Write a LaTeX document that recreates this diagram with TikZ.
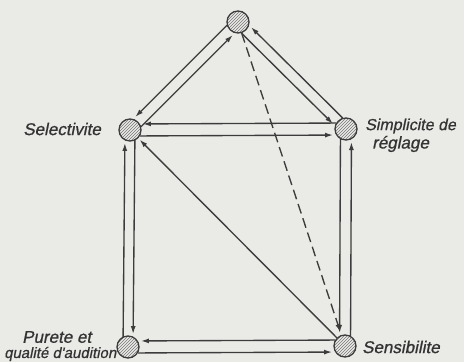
\documentclass[tikz,border=0pt]{standalone}
\usepackage{fontspec}
\setmainfont{Liberation Sans}
\newfontfamily\labfont[FakeBold=0.8,FakeSlant=0.2]{Liberation Sans}
\usetikzlibrary{patterns,arrows.meta,calc}
\definecolor{paper}{RGB}{234,234,231}
\definecolor{ink}{RGB}{60,60,60}
\begin{document}
\begin{tikzpicture}[x=1pt,y=1pt,
  vertex/.style={circle,draw=ink,line width=1.3pt,minimum size=22pt,inner sep=0pt,
    pattern=north east lines,pattern color=ink!70},
  arr/.style={draw=ink,line width=1.35pt,-{Latex[length=8pt,width=5pt]}},
  par/.style={arr,shorten <=10pt,shorten >=13pt},
  lab/.style={font=\fontsize{17}{15}\labfont,text=ink!85!black,inner sep=0pt}]
\fill[paper] (0,0) rectangle (464,-362);
\clip (0,0) rectangle (464,-362);
\useasboundingbox (0,0) rectangle (464,-362);

\node[vertex] (T) at (238,-22) {};
\node[vertex] (S) at (130,-130) {};
\node[vertex] (R) at (346,-129) {};
\node[vertex] (P) at (128,-347) {};
\node[vertex] (E) at (345,-346) {};

% top -- selectivite
\draw[par] ($(T)!5.5pt!-90:(S)$) -- ($(S)!5.5pt!90:(T)$);
\draw[par] ($(S)!5.5pt!-90:(T)$) -- ($(T)!5.5pt!90:(S)$);
% top -- simplicite
\draw[par] ($(T)!5.5pt!-90:(R)$) -- ($(R)!5.5pt!90:(T)$);
\draw[par] ($(R)!5.5pt!-90:(T)$) -- ($(T)!5.5pt!90:(R)$);
% selectivite -- simplicite
\draw[par] ($(R)!6pt!-90:(S)$) -- ($(S)!6pt!90:(R)$);
\draw[par] ($(S)!6pt!-90:(R)$) -- ($(R)!6pt!90:(S)$);
% simplicite -- sensibilite
\draw[par] ($(R)!5.5pt!-90:(E)$) -- ($(E)!5.5pt!90:(R)$);
\draw[par] ($(E)!5.5pt!-90:(R)$) -- ($(R)!5.5pt!90:(E)$);
% purete -- sensibilite
\draw[par] ($(P)!6pt!-90:(E)$) -- ($(E)!6pt!90:(P)$);
\draw[par] ($(E)!6pt!-90:(P)$) -- ($(P)!6pt!90:(E)$);
% selectivite -- purete
\draw[par] ($(P)!5pt!90:(S)$) -- ($(S)!5pt!-90:(P)$);
\draw[par] ($(S)!5pt!90:(P)$) -- ($(P)!5pt!-90:(S)$);
% diagonal
\draw[arr,shorten >=2pt] (E) -- (S);
% dashed
\draw[arr,dash pattern=on 10pt off 5pt,shorten >=3pt] (T) -- (E);

\node[lab,anchor=east] (lS) at (101,-129) {Selectivite};
\node[lab,anchor=west] (lR1) at (365,-126) {\fontsize{16}{15}\selectfont Simplicite de};
\node[lab,anchor=west] (lR2) at (372,-144) {réglage};
\node[lab,anchor=west] (lE) at (362,-347) {Sensibilite};
\node[lab,anchor=west] (lP1) at (22,-337) {Purete et};
\node[lab,anchor=west] (lP2) at (4,-354) {\fontsize{15}{15}\selectfont qualité d'audition};
\end{tikzpicture}
\end{document}
